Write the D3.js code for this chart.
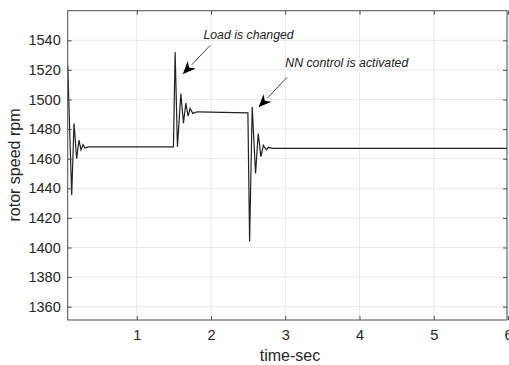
<!DOCTYPE html>
<html>
<head>
<meta charset="utf-8">
<script src="https://cdn.jsdelivr.net/npm/d3@7"></script>
<style>
  html, body { margin: 0; padding: 0; background: #fff; }
  svg { display: block; font-family: "Liberation Sans", Arial, sans-serif; }
</style>
</head>
<body>
<svg id="chart" width="509" height="365"></svg>
<script>
// ---- data ----
const timeSec = [0.07, 0.124, 0.155, 0.191, 0.222, 0.249, 0.276, 0.303, 0.344,
                 1.494, 1.517, 1.548, 1.594, 1.629, 1.661, 1.692, 1.719, 1.755, 1.813,
                 2.497, 2.52, 2.555, 2.60, 2.636, 2.672, 2.705, 2.745, 2.772, 2.826, 6.0];
const rotorSpeed = [1523, 1435.5, 1484, 1460, 1472.6, 1466, 1469.5, 1467, 1468,
                    1468, 1532, 1468, 1504, 1484, 1497.5, 1488.8, 1494, 1490.6, 1491.7,
                    1491, 1404, 1495, 1450, 1477, 1461.4, 1469, 1466, 1467.7, 1467, 1467];
const xTicks = [1, 2, 3, 4, 5, 6];
const yTicks = [1360, 1380, 1400, 1420, 1440, 1460, 1480, 1500, 1520, 1540];
const annoText = ["Load is changed", "NN control is activated"];
const annoTextAt = [[1.898, 1541], [3.0, 1521.8]];
const annoFrom = [[1.989, 1536.6], [3.023, 1514.9]];
const annoTip = [[1.62, 1517.1], [2.64, 1494.7]];

// ---- layout ----
const svg = d3.select("#chart");
const L = 67.7, R = 507, T = 10.7, B = 320;
const x = d3.scaleLinear().domain([0.07, 6]).range([L, R + 1]);
const y = d3.scaleLinear().domain([1351, 1560]).range([B, T]);

const axisColor = "#4d4d4d";
const textColor = "#262626";

// grid
svg.append("g").selectAll("line.gx").data(xTicks).join("line")
  .attr("x1", d => x(d)).attr("x2", d => x(d)).attr("y1", T).attr("y2", B)
  .attr("stroke", "#e8e8e8").attr("stroke-width", 1);
svg.append("g").selectAll("line.gy").data(yTicks).join("line")
  .attr("x1", L).attr("x2", R).attr("y1", d => y(d)).attr("y2", d => y(d))
  .attr("stroke", "#e8e8e8").attr("stroke-width", 1);

// clip
svg.append("clipPath").attr("id", "clip").append("rect")
  .attr("x", L).attr("y", T).attr("width", R - L).attr("height", B - T);

// data line
const pts = timeSec.map((t, i) => [t, rotorSpeed[i]]);
svg.append("path")
  .datum(pts)
  .attr("clip-path", "url(#clip)")
  .attr("fill", "none")
  .attr("stroke", "#222")
  .attr("stroke-width", 1.2)
  .attr("stroke-linejoin", "miter")
  .attr("d", d3.line().x(d => x(d[0])).y(d => y(d[1])));

// axes (MATLAB style box, inward ticks)
const tickLen = 4;
const xb = svg.append("g").attr("transform", `translate(0,${B})`)
  .call(d3.axisBottom(x).tickValues(xTicks).tickFormat(d3.format("d")).tickSizeInner(-tickLen).tickSizeOuter(0).tickPadding(10));
const yl = svg.append("g").attr("transform", `translate(${L},0)`)
  .call(d3.axisLeft(y).tickValues(yTicks).tickFormat(d3.format("d")).tickSizeInner(-tickLen).tickSizeOuter(0).tickPadding(7));
const xt = svg.append("g").attr("transform", `translate(0,${T})`)
  .call(d3.axisTop(x).tickValues(xTicks).tickFormat("").tickSizeInner(-tickLen).tickSizeOuter(0));
const yr = svg.append("g").attr("transform", `translate(${R},0)`)
  .call(d3.axisRight(y).tickValues(yTicks).tickFormat("").tickSizeInner(-tickLen).tickSizeOuter(0));
[xb, yl, xt, yr].forEach(g => {
  g.selectAll(".domain").remove();
  g.selectAll("line").attr("stroke", axisColor);
  g.selectAll("text").attr("fill", textColor).style("font-size", "14.5px")
    .style("font-family", "'Liberation Sans', Arial, sans-serif");
});
// box
svg.append("rect").attr("x", L).attr("y", T).attr("width", R - L).attr("height", B - T)
  .attr("fill", "none").attr("stroke", axisColor).attr("stroke-width", 1);

// axis labels
svg.append("text").attr("x", 290).attr("y", 361)
  .attr("text-anchor", "middle").attr("fill", textColor)
  .style("font-size", "16px").text("time-sec");
svg.append("text").attr("transform", "translate(20,165) rotate(-90)")
  .attr("text-anchor", "middle").attr("fill", textColor)
  .style("font-size", "16px").text("rotor speed rpm");

// annotations
annoText.forEach((txt, i) => {
  svg.append("text")
    .attr("x", x(annoTextAt[i][0])).attr("y", y(annoTextAt[i][1]))
    .attr("fill", "#222").style("font-size", "12.3px").style("font-style", "italic")
    .text(txt);
  const x1 = x(annoFrom[i][0]), y1 = y(annoFrom[i][1]);
  const x2 = x(annoTip[i][0]), y2 = y(annoTip[i][1]);
  const ang = Math.atan2(y2 - y1, x2 - x1);
  const hl = 13, hw = 5.5;
  const bx = x2 - hl * Math.cos(ang), by = y2 - hl * Math.sin(ang);
  svg.append("line").attr("x1", x1).attr("y1", y1).attr("x2", bx).attr("y2", by)
    .attr("stroke", "#444").attr("stroke-width", 1);
  const nx = -Math.sin(ang), ny = Math.cos(ang);
  const mx = x2 - hl * 0.7 * Math.cos(ang), my = y2 - hl * 0.7 * Math.sin(ang);
  svg.append("path")
    .attr("d", `M${x2},${y2} L${bx + nx * hw},${by + ny * hw} L${mx},${my} L${bx - nx * hw},${by - ny * hw} Z`)
    .attr("fill", "#000");
});
</script>
</body>
</html>
